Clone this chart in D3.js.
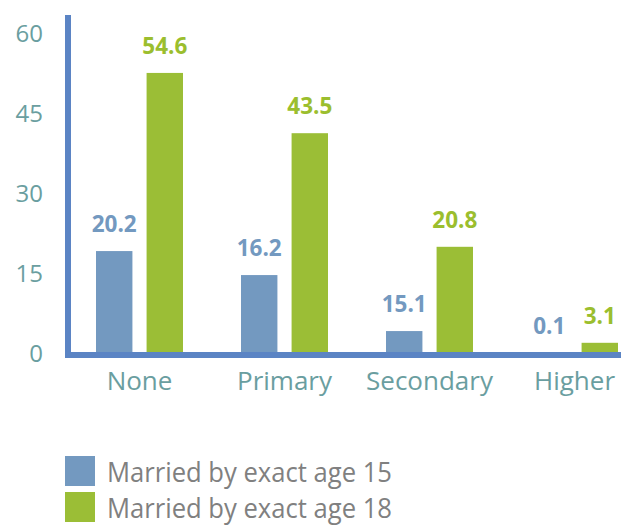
<!DOCTYPE html>
<html>
<head>
<meta charset="utf-8">
<script src="https://cdn.jsdelivr.net/npm/d3@7"></script>
<style>
  html, body { margin: 0; padding: 0; background: #fff; }
  svg { display: block; }
</style>
</head>
<body>
<svg id="chart" width="621" height="525"></svg>
<script>
// ---- data ----
const categories = ["None", "Primary", "Secondary", "Higher"];
const seriesNames = ["Married by exact age 15", "Married by exact age 18"];
// bar heights as drawn in the reference
const age15 = [19.3, 14.8, 4.3, 0.1];
const age18 = [52.7, 41.4, 20.1, 2.1];
// printed data labels
const age15Labels = ["20.2", "16.2", "15.1", "0.1"];
const age18Labels = ["54.6", "43.5", "20.8", "3.1"];
const yTicks = [0, 15, 30, 45, 60];

const colors = ["#7399c0", "#9bbe36"];
const labelColors = ["#7399c0", "#9bbe2e"];
const axisColor = "#5b84c4";
const tickColor = "#6a9ea0";

const svg = d3.select("#chart");
const font = "'Open Sans', 'Noto Sans', sans-serif";

const y = d3.scaleLinear().domain([0, 60]).range([354, 34]);
const x0 = d3.scaleBand().domain(categories).range([67, 647]).paddingInner(0).paddingOuter(0);
const x1 = d3.scaleBand().domain([0, 1]).range([-43.5, 43.5]).paddingInner(0.28);

// y tick labels (no tick marks)
const yAxis = d3.axisLeft(y).tickValues(yTicks).tickSize(0).tickPadding(0);
const gy = svg.append("g").attr("transform", "translate(43,0)").call(yAxis);
gy.select(".domain").remove();
gy.selectAll("text")
  .attr("font-family", font).attr("font-size", 24).attr("fill", tickColor);

// bars
const series = [age15, age18];
const labels = [age15Labels, age18Labels];
const groups = svg.append("g").selectAll("g")
  .data(categories).join("g")
  .attr("transform", d => `translate(${x0(d) + x0.bandwidth() / 2},0)`);

groups.each(function(cat, i) {
  const g = d3.select(this);
  [0, 1].forEach(s => {
    const v = series[s][i];
    g.append("rect")
      .attr("x", x1(s))
      .attr("width", x1.bandwidth())
      .attr("y", y(v))
      .attr("height", y(0) - y(v))
      .attr("fill", colors[s]);
    g.append("text")
      .attr("x", x1(s) + x1.bandwidth() / 2)
      .attr("y", y(v) - 19)
      .attr("text-anchor", "middle")
      .attr("font-family", font)
      .attr("font-weight", 700)
      .attr("font-size", 22.5)
      .attr("fill", labelColors[s])
      .text(labels[s][i]);
  });
});

// axis lines
svg.append("line")
  .attr("x1", 68).attr("x2", 68)
  .attr("y1", y(60) - 19).attr("y2", y(0) + 4)
  .attr("stroke", axisColor).attr("stroke-width", 6);
svg.append("line")
  .attr("x1", 65).attr("x2", 621)
  .attr("y1", y(0) + 1).attr("y2", y(0) + 1)
  .attr("stroke", axisColor).attr("stroke-width", 6);

// category labels
const xAxis = d3.axisBottom(x0).tickSize(0).tickPadding(0);
const gx = svg.append("g").attr("transform", `translate(0,${y(0) + 36})`).call(xAxis);
gx.select(".domain").remove();
gx.selectAll("text")
  .attr("dy", 0)
  .attr("font-family", font).attr("font-size", 26).attr("fill", tickColor);

// legend
const legend = svg.append("g").selectAll("g")
  .data(seriesNames).join("g")
  .attr("transform", (d, i) => `translate(65,${456 + i * 36})`);
legend.append("rect")
  .attr("width", 30).attr("height", 30)
  .attr("fill", (d, i) => colors[i]);
legend.append("text")
  .attr("x", 42).attr("y", 26)
  .attr("font-family", font).attr("font-size", 27)
  .attr("fill", "#808080")
  .attr("textLength", 285).attr("lengthAdjust", "spacingAndGlyphs")
  .text(d => d);
</script>
</body>
</html>
